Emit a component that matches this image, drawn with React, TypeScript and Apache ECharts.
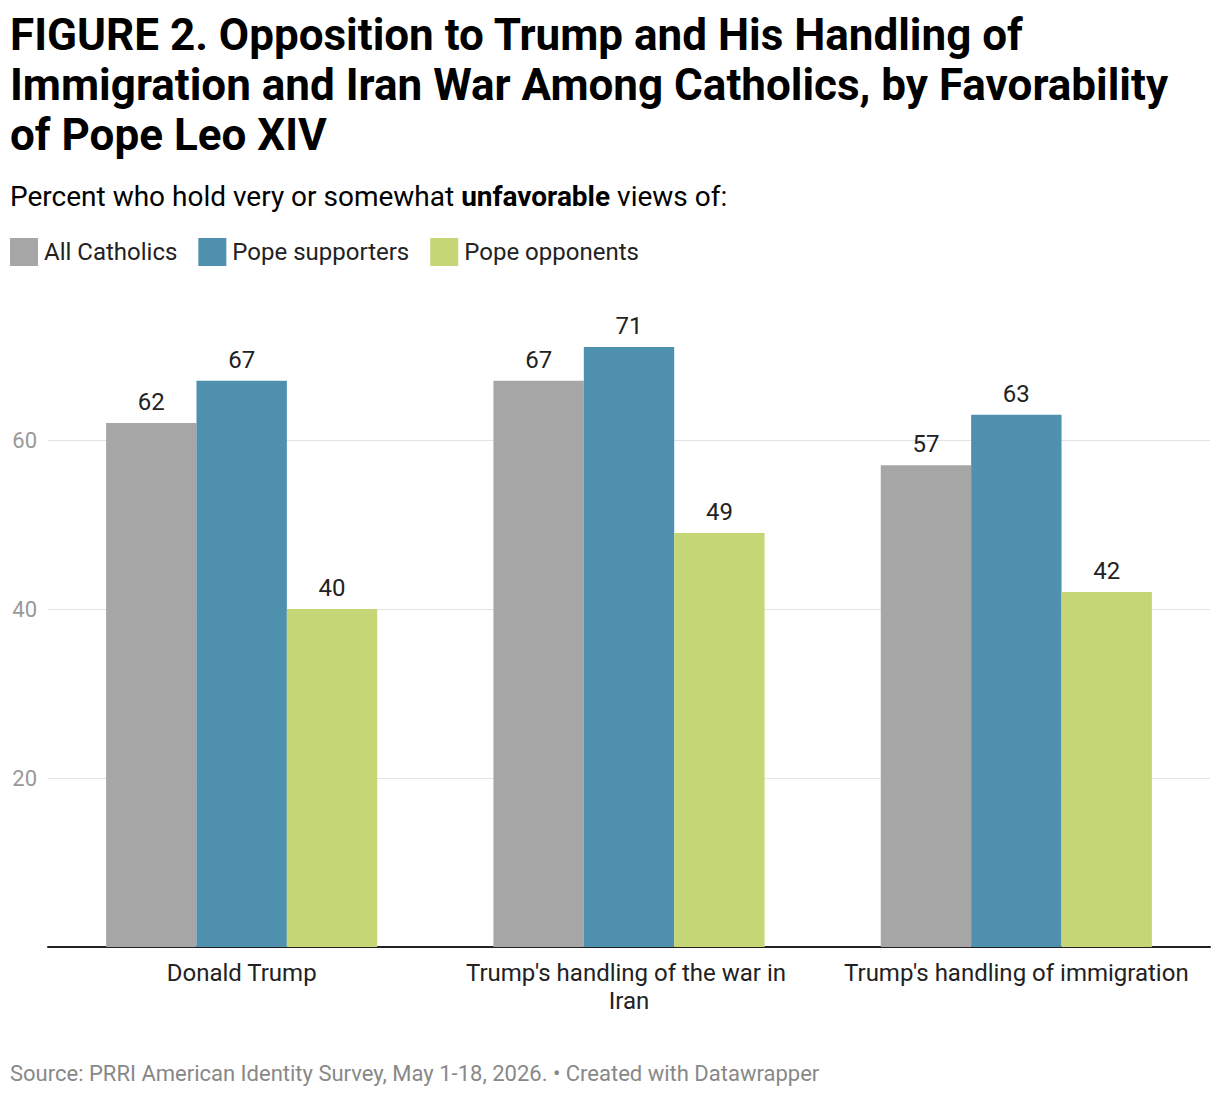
import { useEffect, useRef } from "react";
import * as echarts from "echarts";

const categories = [
  "Donald Trump",
  "Trump's handling of the war in Iran",
  "Trump's handling of immigration",
];
const allCatholics = [62, 67, 57];
const popeSupporters = [67, 71, 63];
const popeOpponents = [40, 49, 42];

const FONT = "Roboto, 'Noto Sans', sans-serif";

export default function App() {
  const chartRef = useRef<HTMLDivElement>(null);

  useEffect(() => {
    document.body.style.margin = "0";
    if (!chartRef.current) return;
    const chart = echarts.init(chartRef.current, null, { renderer: "svg" });

    const labelStyle = {
      show: true,
      position: "top" as const,
      distance: 9,
      fontSize: 24,
      color: "#222",
      fontFamily: FONT,
    };

    const option: echarts.EChartsOption = {
      animation: false,
      backgroundColor: "#fff",
      textStyle: { fontFamily: FONT },
      title: {
        text: "FIGURE 2. Opposition to Trump and His Handling of\nImmigration and Iran War Among Catholics, by Favorability\nof Pope Leo XIV",
        left: 10,
        top: 10,
        padding: 0,
        textStyle: {
          fontSize: 44,
          fontWeight: "bold",
          lineHeight: 50,
          color: "#000",
          fontFamily: FONT,
        },
      },
      graphic: [
        {
          type: "text",
          left: 10,
          top: 182,
          style: {
            text: "{n|Percent who hold very or somewhat }{b|unfavorable}{n| views of:}",
            rich: {
              n: { fontSize: 28, color: "#222", fontFamily: FONT },
              b: { fontSize: 28, color: "#222", fontWeight: "bold", fontFamily: FONT },
            },
          },
        },
        {
          type: "text",
          left: 10,
          top: 1062,
          style: {
            text: "Source: PRRI American Identity Survey, May 1-18, 2026. • Created with Datawrapper",
            fontSize: 22,
            fill: "#888",
            fontFamily: FONT,
          },
        },
      ],
      legend: {
        left: 10,
        top: 238,
        padding: 0,
        itemWidth: 28,
        itemHeight: 28,
        itemGap: 21,
        icon: "rect",
        selectedMode: false,
        textStyle: { fontSize: 24, color: "#222", fontFamily: FONT, padding: [0, 0, 0, 1] },
      },
      grid: {
        left: 48,
        right: 10,
        top: 271,
        bottom: 149,
        containLabel: false,
      },
      xAxis: {
        type: "category",
        data: categories,
        axisTick: { show: false },
        axisLine: { lineStyle: { color: "#222", width: 2 } },
        axisLabel: {
          fontSize: 24,
          color: "#222",
          margin: 12,
          lineHeight: 28,
          width: 352,
          overflow: "break",
          interval: 0,
          fontFamily: FONT,
        },
      },
      yAxis: {
        type: "value",
        min: 0,
        max: 80,
        interval: 20,
        axisLine: { show: false },
        axisTick: { show: false },
        axisLabel: {
          fontSize: 22,
          color: "#999",
          margin: 11,
          showMinLabel: false,
          showMaxLabel: false,
          fontFamily: FONT,
        },
        splitLine: {
          show: true,
          showMinLine: false,
          showMaxLine: false,
          lineStyle: { color: "#e3e3e3", width: 1 },
        },
      },
      series: [
        {
          name: "All Catholics",
          type: "bar",
          data: allCatholics,
          itemStyle: { color: "#a6a6a6" },
          barGap: "0%",
          barCategoryGap: "30%",
          label: labelStyle,
        },
        {
          name: "Pope supporters",
          type: "bar",
          data: popeSupporters,
          itemStyle: { color: "#4e90ae" },
          barGap: "0%",
          barCategoryGap: "30%",
          label: labelStyle,
        },
        {
          name: "Pope opponents",
          type: "bar",
          data: popeOpponents,
          itemStyle: { color: "#c5d677" },
          barGap: "0%",
          barCategoryGap: "30%",
          label: labelStyle,
        },
      ],
    };

    chart.setOption(option);

    return () => {
      chart.dispose();
    };
  }, []);

  return <div ref={chartRef} style={{ width: 1220, height: 1096 }} />;
}
